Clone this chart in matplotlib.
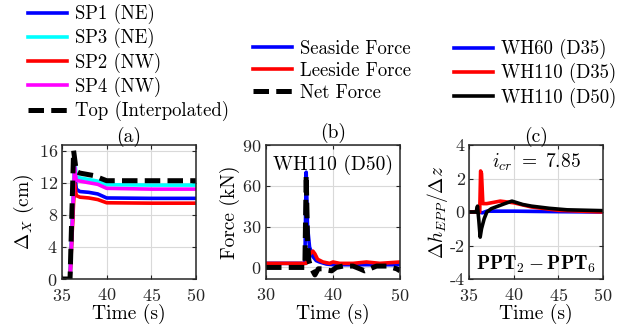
import matplotlib
matplotlib.use("Agg")
import matplotlib.pyplot as plt

plt.rcParams['font.family'] = 'serif'
plt.rcParams['font.serif'] = ['cmr10']
plt.rcParams['mathtext.fontset'] = 'cm'
plt.rcParams['axes.formatter.use_mathtext'] = True
plt.rcParams['axes.unicode_minus'] = True

# ---------- Panel (a) data ----------
t_sp = [35, 35.9, 36.4, 36.6, 37, 38, 39, 40, 45, 50]
sp1 = [0, 0, 13.5, 11.2, 10.9, 10.8, 10.6, 10.1, 10.05, 10.05]
sp3 = [0, 0, 15.0, 12.8, 12.6, 12.4, 12.2, 11.75, 11.7, 11.7]
sp2 = [0, 0, 12.0, 10.4, 10.2, 10.1, 9.9, 9.5, 9.45, 9.45]
sp4 = [0, 0, 14.0, 12.3, 12.2, 12.0, 11.8, 11.3, 11.2, 11.2]
t_top = [35, 35.9, 36.3, 36.6, 37, 38.5, 40, 50]
top = [0, 0, 16.0, 13.4, 13.2, 12.9, 12.25, 12.25]

# ---------- Panel (b) data ----------
t_sea = [30, 35.8, 36.0, 36.2, 36.5, 37, 37.5, 38, 39, 40, 50]
sea = [3, 3, 70, 30, 15, 8, 5, 4, 2.5, 2, 2]
t_lee = [30, 36.0, 36.3, 36.6, 37, 37.3, 37.7, 38.5, 39.5, 40, 41, 43, 45, 47, 50]
lee = [3, 3, 8, 10, 12, 10, 6, 4, 3, 4, 3, 3, 4, 3, 4]
t_net = [30, 35.8, 36.0, 36.2, 36.4, 36.7, 37.3, 37.8, 38.5, 39.2, 39.8, 40.5,
         41.5, 43, 44, 44.7, 45.5, 46.5, 48, 49.5, 50]
net = [0, 0, 68, 20, 5, 0, -5.5, -1, -1, -2, -2.5, 0, 1, 1, -1, -2.5, -1, 1, 1, -1, -2.5]

# ---------- Panel (c) data ----------
t_wh60 = [35, 36, 36.5, 37, 40, 45, 50]
wh60 = [0, 0, -0.05, 0.05, 0.05, 0.02, 0.0]
t_wh110a = [35, 36.2, 36.3, 36.4, 36.55, 37, 38.5, 40, 42, 45, 50]
wh110a = [0, 0, 2.45, 2.3, 0.5, 0.5, 0.65, 0.55, 0.3, 0.1, 0.0]
t_wh110b = [35, 35.8, 35.95, 36.1, 36.25, 36.4, 36.55, 36.7, 37, 37.5, 38, 39, 39.8,
            41, 42, 44, 46, 50]
wh110b = [0, 0, 0.35, -0.5, -1.5, -1.0, -0.7, -0.4, 0, 0.2, 0.3, 0.5, 0.65,
          0.45, 0.35, 0.22, 0.13, 0.08]
c_yticks = [-4, -2, 0, 2, 4]
c_yticklabels = ['-4', '-2', '0', '2', '4']

W, H = 630, 327
fig = plt.figure(figsize=(W / 100, H / 100), dpi=100)

def axrect(l, r, t, b):
    return [l / W, 1 - b / H, (r - l) / W, (b - t) / H]

ax_a = fig.add_axes(axrect(62, 196, 145, 279))
ax_b = fig.add_axes(axrect(266, 400, 145, 279))
ax_c = fig.add_axes(axrect(469, 603, 145, 279))

tick_fs = 13
lab_fs = 14
leg_fs = 13.5

for ax in (ax_a, ax_b, ax_c):
    ax.grid(True, color='#d9d9d9', lw=0.8)
    ax.set_axisbelow(True)
    ax.tick_params(direction='in', length=3, labelsize=tick_fs, pad=3, colors='#262626',
                   top=True, right=True)
    ax.tick_params(axis='x', pad=6)
    for s in ax.spines.values():
        s.set_linewidth(1.1)
        s.set_color('#262626')
    ax.set_xlabel('Time (s)', fontsize=lab_fs, labelpad=0)

dash = (0, (3.1, 1.45))

# (a)
l1, = ax_a.plot(t_sp, sp1, color='#0000ff', lw=2.6, label='SP1 (NE)')
l3, = ax_a.plot(t_sp, sp3, color='#00ffff', lw=2.6, label='SP3 (NE)')
l2, = ax_a.plot(t_sp, sp2, color='#ff0000', lw=2.6, label='SP2 (NW)')
l4, = ax_a.plot(t_sp, sp4, color='#ff00ff', lw=2.6, label='SP4 (NW)')
lt, = ax_a.plot(t_top, top, color='black', lw=3.6, ls=dash, label='Top (Interpolated)')
ax_a.set_xlim(35, 50)
ax_a.set_ylim(0, 16.7)
ax_a.set_xticks([35, 40, 45, 50])
ax_a.set_yticks([0, 4, 8, 12, 16])
ax_a.set_ylabel(r'$\Delta_X$ (cm)', fontsize=lab_fs, labelpad=2)
ax_a.set_title('(a)', fontsize=lab_fs, pad=2)

# (b)
b1, = ax_b.plot(t_sea, sea, color='#0000ff', lw=2.6, label='Seaside Force')
b2, = ax_b.plot(t_lee, lee, color='#ff0000', lw=2.6, label='Leeside Force')
b3, = ax_b.plot(t_net, net, color='black', lw=3.6, ls=dash, label='Net Force')
ax_b.set_xlim(30, 50)
ax_b.set_ylim(-8.5, 90)
ax_b.set_xticks([30, 40, 50])
ax_b.set_yticks([0, 30, 60, 90])
ax_b.set_ylabel('Force (kN)', fontsize=lab_fs, labelpad=2)
ax_b.set_title('(b)', fontsize=lab_fs, pad=5)
ax_b.text(0.5, 0.93, 'WH110 (D50)', transform=ax_b.transAxes, ha='center', va='top',
          fontsize=lab_fs)

# (c)
c1, = ax_c.plot(t_wh60, wh60, color='#0000ff', lw=2.6, label='WH60 (D35)')
c2, = ax_c.plot(t_wh110a, wh110a, color='#ff0000', lw=2.6, label='WH110 (D35)')
c3, = ax_c.plot(t_wh110b, wh110b, color='black', lw=2.6, label='WH110 (D50)')
ax_c.set_xlim(35, 50)
ax_c.set_ylim(-4, 4)
ax_c.set_xticks([35, 40, 45, 50])
ax_c.set_yticks(c_yticks)
ax_c.set_yticklabels(c_yticklabels)
ax_c.set_ylabel(r'$\Delta h_{EPP}/\Delta z$', fontsize=lab_fs, labelpad=0)
ax_c.set_title('(c)', fontsize=lab_fs, pad=2)
ax_c.text(0.5, 0.95, r'$i_{cr}\ =\ 7.85$', transform=ax_c.transAxes, ha='center', va='top',
          fontsize=lab_fs)
ax_c.text(0.5, 0.03, r'$\mathbf{PPT_2 - PPT_6}$', transform=ax_c.transAxes, ha='center',
          va='bottom', fontsize=lab_fs)

leg_kw = dict(frameon=False, fontsize=leg_fs, handlelength=2.1, handletextpad=0.4,
              labelspacing=0.22, borderaxespad=0, borderpad=0, loc='upper left')

fig.legend(handles=[l1, l3, l2, l4, lt], bbox_to_anchor=(28 / W, 1 - 4 / H), **leg_kw)
fig.legend(handles=[b1, b2, b3], bbox_to_anchor=(253 / W, 1 - 40 / H), **leg_kw)
fig.legend(handles=[c1, c2, c3], bbox_to_anchor=(454 / W, 1 - 39 / H), **leg_kw)

fig.savefig('out.png', dpi=100)
